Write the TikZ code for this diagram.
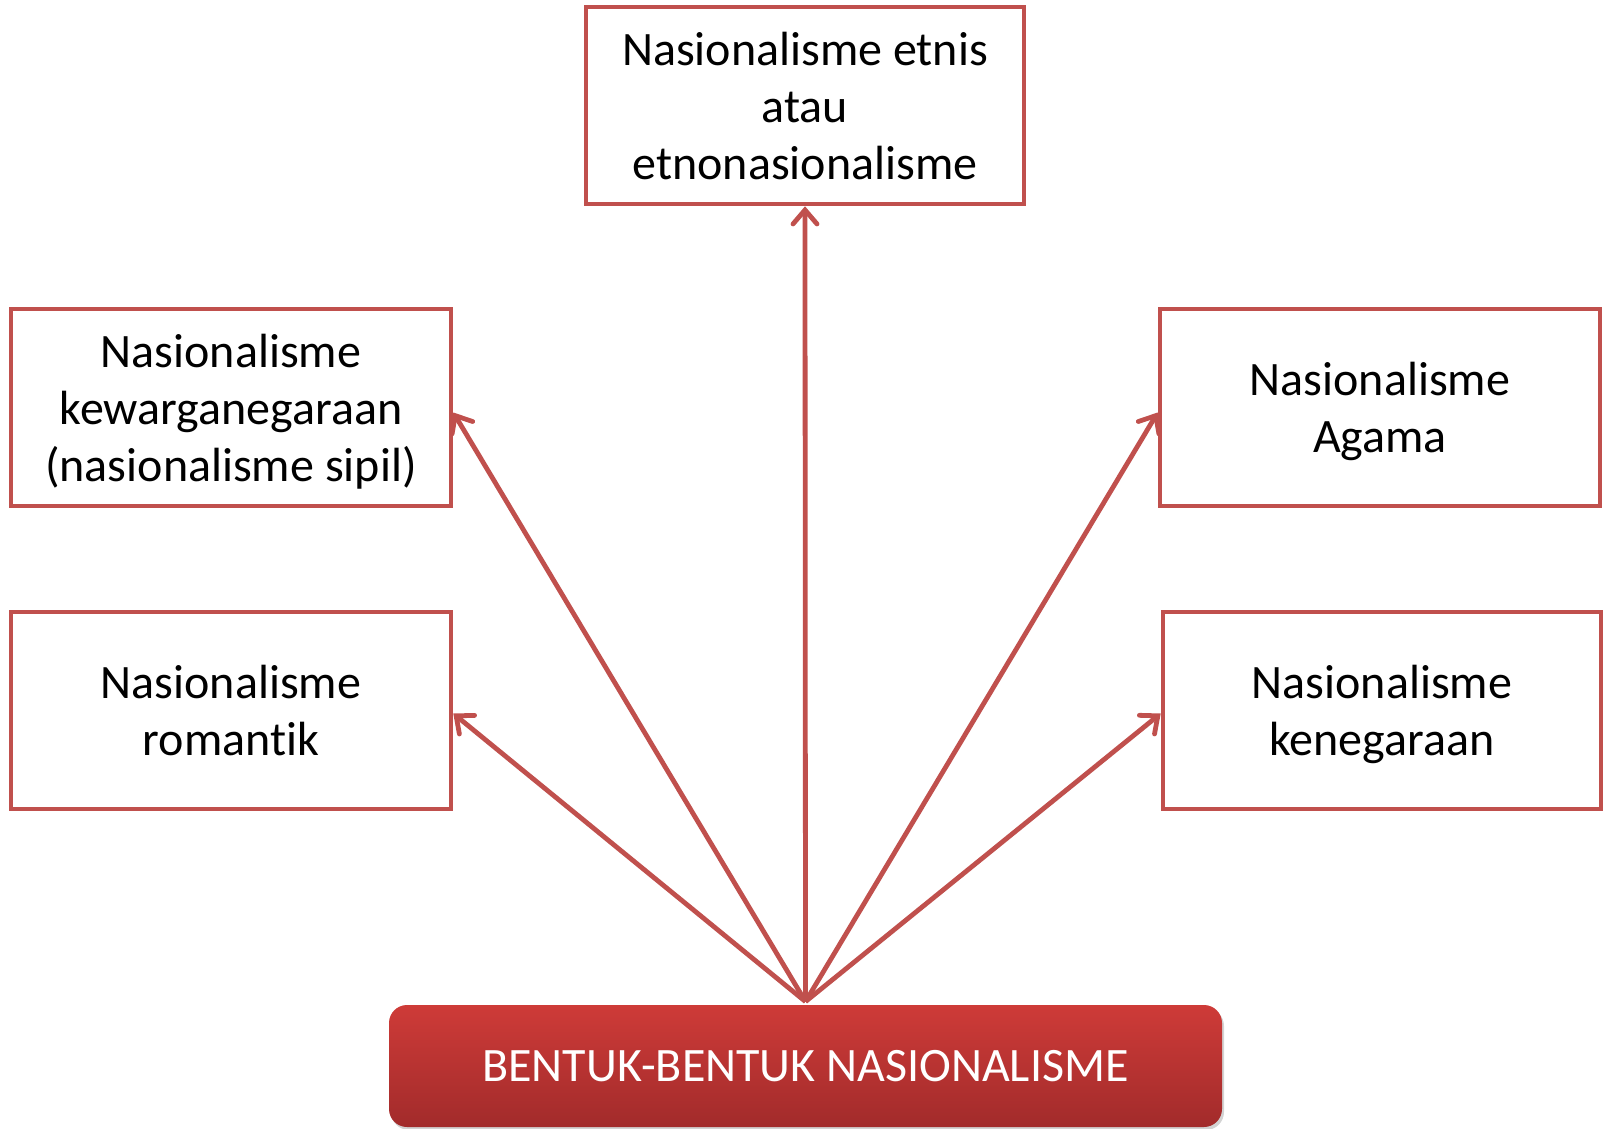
\documentclass[tikz,border=0pt]{standalone}
\usepackage{fontspec}
\setmainfont[Ligatures=NoCommon]{Carlito}
\usetikzlibrary{arrows.meta,calc,shadows}
\definecolor{accent}{HTML}{C0504D}
\definecolor{redtop}{HTML}{CE3B38}
\definecolor{redbot}{HTML}{A22B2B}
\tikzset{
  kind/.style={draw=accent, line width=2.3pt, fill=white, align=center,
    inner sep=0pt, minimum height=98.5pt, text depth=0pt,
    font=\fontsize{24}{28.5}\selectfont},
  root/.style={rounded corners=9pt, top color=redtop, bottom color=redbot,
    draw=none, text=white, minimum width=416.5pt, minimum height=61pt,
    font=\fontsize{24}{28}\selectfont,
    drop shadow={opacity=0.35, shadow xshift=1pt, shadow yshift=-1.5pt}},
  link/.style={draw=accent, line width=2.4pt,
    -{Straight Barb[length=7pt,width=12pt,line cap=round]}}
}
\begin{document}
\begin{tikzpicture}[x=0.5pt,y=-0.5pt]
  \useasboundingbox (0,0) rectangle (1603,1129);
  % category boxes
  \node[kind, minimum width=219pt] (etnis) at (805,105.5)
    {Nasionalisme etnis\\atau\\etnonasionalisme};
  \node[kind, minimum width=220pt] (warga) at (231,407.5)
    {Nasionalisme\\kewarganegaraan\\(nasionalisme sipil)};
  \node[kind, minimum width=220pt] (roman) at (231,710.5)
    {Nasionalisme\\romantik};
  \node[kind, minimum width=220pt] (agama) at (1380,407.5)
    {Nasionalisme\\Agama};
  \node[kind, minimum width=219pt] (negara) at (1382,710.5)
    {Nasionalisme\\kenegaraan};
  % root box
  \node[root] (bentuk) at (805.5,1066) {BENTUK-BENTUK NASIONALISME};
  % connectors from the root
  \coordinate (apex) at ($(bentuk.north)+(0,-3)$);
  \draw[link] (apex) -- (etnis.south);
  \draw[link] (apex) -- ($(warga.east)+(0,5)$);
  \draw[link] (apex) -- ($(roman.east)+(0,3)$);
  \draw[link] (apex) -- ($(agama.west)+(0,5)$);
  \draw[link] (apex) -- ($(negara.west)+(0,3)$);
\end{tikzpicture}
\end{document}
